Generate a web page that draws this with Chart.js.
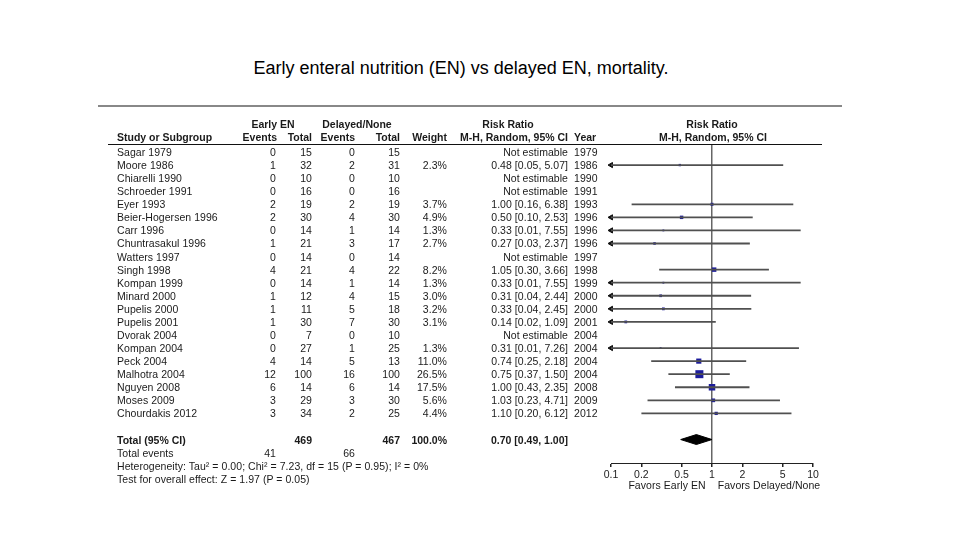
<!DOCTYPE html>
<html>
<head>
<meta charset="utf-8">
<script src="https://cdn.jsdelivr.net/npm/chart.js@4/dist/chart.umd.min.js"></script>
<style>
  html, body { margin: 0; padding: 0; background: #fff; }
  #wrap { position: relative; width: 960px; height: 540px; overflow: hidden;
          font-family: "Liberation Sans", Arial, sans-serif; color: #1a1a1a; }
  #chart { position: absolute; left: 0; top: 0; }
  .t { position: absolute; font-size: 10.5px; line-height: 12px; letter-spacing: 0.05px; white-space: nowrap; }
  .b { font-weight: bold; letter-spacing: 0; }
  .rule { position: absolute; }
  #title { position: absolute; left: 0; width: 922px; top: 57px; text-align: center;
           font-size: 18px; line-height: 22px; color: #000; }
</style>
</head>
<body>
<div id="wrap">
  <div id="title">Early enteral nutrition (EN) vs delayed EN, mortality.</div>
  <div class="rule" style="left:98px; top:105px; width:744px; height:2px; background:#888;"></div>
  <div class="rule" style="left:108px; top:143.5px; width:714px; height:1.5px; background:#111;"></div>
  <canvas id="chart" width="960" height="540"></canvas>
</div>
<script>
// ── DATA ───────────────────────────────────────────────────
const studies = ["Sagar 1979", "Moore 1986", "Chiarelli 1990", "Schroeder 1991", "Eyer 1993",
  "Beier-Hogersen 1996", "Carr 1996", "Chuntrasakul 1996", "Watters 1997", "Singh 1998",
  "Kompan 1999", "Minard 2000", "Pupelis 2000", "Pupelis 2001", "Dvorak 2004",
  "Kompan 2004", "Peck 2004", "Malhotra 2004", "Nguyen 2008", "Moses 2009", "Chourdakis 2012"];
const earlyEvents   = [0, 1, 0, 0, 2, 2, 0, 1, 0, 4, 0, 1, 1, 1, 0, 0, 4, 12, 6, 3, 3];
const earlyTotal    = [15, 32, 10, 16, 19, 30, 14, 21, 14, 21, 14, 12, 11, 30, 7, 27, 14, 100, 14, 29, 34];
const delayedEvents = [0, 2, 0, 0, 2, 4, 1, 3, 0, 4, 1, 4, 5, 7, 0, 1, 5, 16, 6, 3, 2];
const delayedTotal  = [15, 31, 10, 16, 19, 30, 14, 17, 14, 22, 14, 15, 18, 30, 10, 25, 13, 100, 14, 30, 25];
const weights = [null, 2.3, null, null, 3.7, 4.9, 1.3, 2.7, null, 8.2, 1.3, 3.0, 3.2, 3.1, null, 1.3, 11.0, 26.5, 17.5, 5.6, 4.4];
const rr      = [null, 0.48, null, null, 1.00, 0.50, 0.33, 0.27, null, 1.05, 0.33, 0.31, 0.33, 0.14, null, 0.31, 0.74, 0.75, 1.00, 1.03, 1.10];
const ciLow   = [null, 0.05, null, null, 0.16, 0.10, 0.01, 0.03, null, 0.30, 0.01, 0.04, 0.04, 0.02, null, 0.01, 0.25, 0.37, 0.43, 0.23, 0.20];
const ciHigh  = [null, 5.07, null, null, 6.38, 2.53, 7.55, 2.37, null, 3.66, 7.55, 2.44, 2.45, 1.09, null, 7.26, 2.18, 1.50, 2.35, 4.71, 6.12];
const years   = [1979, 1986, 1990, 1991, 1993, 1996, 1996, 1996, 1997, 1998, 1999, 2000, 2000, 2001, 2004, 2004, 2004, 2004, 2008, 2009, 2012];

const totalEarly = 469, totalDelayed = 467, totalWeight = "100.0%";
const totalRR = 0.70, totalLow = 0.49, totalHigh = 1.00;
const totalEventsEarly = 41, totalEventsDelayed = 66;
const heterogeneity = "Heterogeneity: Tau² = 0.00; Chi² = 7.23, df = 15 (P = 0.95); I² = 0%";
const overallTest = "Test for overall effect: Z = 1.97 (P = 0.05)";

const xTicks = [0.1, 0.2, 0.5, 1, 2, 5, 10];
const xTickLabels = ["0.1", "0.2", "0.5", "1", "2", "5", "10"];

// ── LAYOUT ─────────────────────────────────────────────────
const rowTop = 152, rowH = 13.07;           // first study row centre, row pitch
const plotTop = 145, plotBottom = 463;      // chart area (header rule .. axis)
const plotLeft = 611, plotRight = 813;      // 0.1 .. 10
const totalRow = studies.length + 1;
const rowY = r => rowTop + rowH * r;
const fmt2 = v => v.toFixed(2);

const wrap = document.getElementById("wrap");
function put(text, x, y, align, bold) {
  const d = document.createElement("div");
  d.className = "t" + (bold ? " b" : "");
  d.textContent = text;
  d.style.top = (y - 6) + "px";
  if (align === "right") d.style.right = (960 - x) + "px";
  else if (align === "center") { d.style.left = (x - 100) + "px"; d.style.width = "200px"; d.style.textAlign = "center"; }
  else d.style.left = x + "px";
  wrap.appendChild(d);
}

// header
put("Early EN", 273, 124, "center", true);
put("Delayed/None", 357, 124, "center", true);
put("Risk Ratio", 508, 124, "center", true);
put("Risk Ratio", 712, 124, "center", true);
put("Study or Subgroup", 117, 137, "left", true);
put("Events", 277, 137, "right", true);
put("Total", 312, 137, "right", true);
put("Events", 355, 137, "right", true);
put("Total", 400, 137, "right", true);
put("Weight", 447, 137, "right", true);
put("M-H, Random, 95% CI", 568, 137, "right", true);
put("Year", 574, 137, "left", true);
put("M-H, Random, 95% CI", 713, 137, "center", true);

// study rows
studies.forEach((s, i) => {
  const y = rowY(i);
  put(s, 117, y, "left");
  put(String(earlyEvents[i]), 276, y, "right");
  put(String(earlyTotal[i]), 312, y, "right");
  put(String(delayedEvents[i]), 355, y, "right");
  put(String(delayedTotal[i]), 400, y, "right");
  if (weights[i] !== null) put(weights[i].toFixed(1) + "%", 447, y, "right");
  put(rr[i] === null ? "Not estimable"
      : `${fmt2(rr[i])} [${fmt2(ciLow[i])}, ${fmt2(ciHigh[i])}]`, 568, y, "right");
  put(String(years[i]), 574, y, "left");
});

// totals
const ty = rowY(totalRow);
put("Total (95% CI)", 117, ty, "left", true);
put(String(totalEarly), 312, ty, "right", true);
put(String(totalDelayed), 400, ty, "right", true);
put(totalWeight, 447, ty, "right", true);
put(`${fmt2(totalRR)} [${fmt2(totalLow)}, ${fmt2(totalHigh)}]`, 568, ty, "right", true);
put("Total events", 117, rowY(totalRow + 1), "left");
put(String(totalEventsEarly), 276, rowY(totalRow + 1), "right");
put(String(totalEventsDelayed), 355, rowY(totalRow + 1), "right");
put(heterogeneity, 117, rowY(totalRow + 2), "left");
put(overallTest, 117, rowY(totalRow + 3), "left");
put("Favors Early EN", 667, 485, "center");
put("Favors Delayed/None", 769, 485, "center");

// ── CHART ──────────────────────────────────────────────────
const datasets = [];
studies.forEach((s, i) => {
  if (rr[i] === null) return;
  datasets.push({
    label: s,
    data: [{ x: ciLow[i], y: i }, { x: ciHigh[i], y: i }],
    showLine: true,
    borderColor: "#505050",
    borderWidth: 1.8,
    pointRadius: 0,
  });
});

// left arrows for CIs running off the axis
datasets.push({
  label: "arrows",
  data: studies.map((s, i) => i).filter(i => rr[i] !== null && ciLow[i] <= 0.1).map(i => ({ x: 0.1, y: i })),
  pointStyle: "triangle",
  rotation: -90,
  pointRadius: 3,
  backgroundColor: "#111",
  borderColor: "#111",
  borderWidth: 1,
  clip: false,
});

// study estimates, square area ~ weight
datasets.push({
  label: "estimates",
  data: studies.map((s, i) => i).filter(i => rr[i] !== null).map(i => ({ x: rr[i], y: i })),
  pointStyle: "rect",
  pointRadius: studies.map((s, i) => i).filter(i => rr[i] !== null).map(i => Math.max(1.3, 1.1 * Math.sqrt(weights[i]))),
  backgroundColor: "#1c1c9c",
  borderWidth: 0,
  clip: false,
});

// pooled diamond
const dh = 0.38;
datasets.push({
  label: "total",
  data: [
    { x: totalLow, y: totalRow }, { x: totalRR, y: totalRow - dh },
    { x: totalHigh, y: totalRow }, { x: totalRR, y: totalRow + dh },
    { x: totalLow, y: totalRow },
  ],
  showLine: true,
  fill: "shape",
  backgroundColor: "#000",
  borderColor: "#000",
  borderWidth: 1,
  pointRadius: 0,
  clip: false,
});

new Chart(document.getElementById("chart").getContext("2d"), {
  type: "scatter",
  data: { datasets },
  options: {
    responsive: false,
    animation: false,
    layout: { padding: { left: plotLeft, right: 960 - plotRight, top: plotTop, bottom: 540 - plotBottom - 30 } },
    plugins: { legend: { display: false }, tooltip: { enabled: false } },
    scales: {
      x: {
        type: "logarithmic",
        min: 0.1,
        max: 10,
        position: "bottom",
        afterBuildTicks: scale => { scale.ticks = xTicks.map(v => ({ value: v })); },
        afterFit: scale => { scale.height = 30; },
        ticks: {
          autoSkip: false,
          maxRotation: 0,
          padding: 2,
          color: "#222",
          font: { family: "'Liberation Sans', Arial, sans-serif", size: 10.5 },
          callback: (v, idx) => xTickLabels[idx],
        },
        grid: {
          color: ctx => (ctx.tick && ctx.tick.value === 1 ? "#666" : "rgba(0,0,0,0)"),
          lineWidth: 1.5,
          tickColor: "#222",
          tickLength: 4,
        },
        border: { display: true, color: "#222", width: 1 },
      },
      y: {
        type: "linear",
        reverse: true,
        min: (plotTop - rowTop) / rowH,
        max: (plotBottom - rowTop) / rowH,
        display: false,
      },
    },
  },
});
</script>
</body>
</html>
